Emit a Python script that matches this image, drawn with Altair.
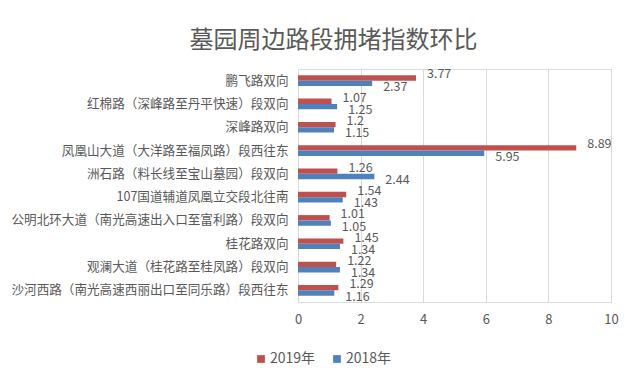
import altair as alt
import pandas as pd

categories = [
    "鹏飞路双向",
    "红棉路（深峰路至丹平快速）段双向",
    "深峰路双向",
    "凤凰山大道（大洋路至福凤路）段西往东",
    "洲石路（料长线至宝山墓园）段双向",
    "107国道辅道凤凰立交段北往南",
    "公明北环大道（南光高速出入口至富利路）段双向",
    "桂花路双向",
    "观澜大道（桂花路至桂凤路）段双向",
    "沙河西路（南光高速西丽出口至同乐路）段西往东",
]
values_2019 = [3.77, 1.07, 1.2, 8.89, 1.26, 1.54, 1.01, 1.45, 1.22, 1.29]
values_2018 = [2.37, 1.25, 1.15, 5.95, 2.44, 1.43, 1.05, 1.34, 1.34, 1.16]
series = ["2019年", "2018年"]
colors = ["#C0504D", "#4F81BD"]
x_ticks = [0, 2, 4, 6, 8, 10]

rows = []
for c, a, b in zip(categories, values_2019, values_2018):
    rows.append({"cat": c, "series": series[0], "value": a})
    rows.append({"cat": c, "series": series[1], "value": b})
df = pd.DataFrame(rows)

FONT = "Noto Sans CJK SC"
GRAY = "#595959"

y_enc = alt.Y("cat:N", sort=categories, title=None,
              scale=alt.Scale(paddingInner=0.54, paddingOuter=0.27),
              axis=alt.Axis(labelFontSize=12.6, labelColor=GRAY, labelFont=FONT,
                            ticks=False, domain=False, labelPadding=10, labelLimit=400))
x_enc = alt.X("value:Q", title=None,
              scale=alt.Scale(domain=[0, 10], nice=False),
              axis=alt.Axis(values=x_ticks, grid=True, gridColor="#D9D9D9", domain=False,
                            ticks=False, labelFontSize=13, labelColor=GRAY, labelFont=FONT,
                            labelPadding=11, labelFlush=False))
yoff = alt.YOffset("series:N", sort=series)

bars = alt.Chart(df).mark_bar().encode(
    y=y_enc, x=x_enc, yOffset=yoff,
    color=alt.Color("series:N", sort=series,
                    scale=alt.Scale(domain=series, range=colors),
                    legend=alt.Legend(title=None, orient="none", direction="horizontal",
                                      legendX=-44, legendY=283, symbolType="square",
                                      symbolSize=60, labelFontSize=14, labelColor=GRAY,
                                      labelFont=FONT, columnPadding=14, symbolStrokeWidth=0,
                                      labelOffset=2)),
)

text19 = alt.Chart(df[df.series == series[0]]).mark_text(
    align="left", baseline="middle", dx=11, dy=-3.5, fontSize=12.5, color=GRAY, font=FONT
).encode(y=alt.Y("cat:N", sort=categories), x="value:Q", yOffset=yoff,
         text=alt.Text("value:Q", format=".2~f"))

text18 = alt.Chart(df[df.series == series[1]]).mark_text(
    align="left", baseline="middle", dx=11, dy=3.5, fontSize=12.5, color=GRAY, font=FONT
).encode(y=alt.Y("cat:N", sort=categories), x="value:Q", yOffset=yoff,
         text=alt.Text("value:Q", format=".2~f"))

chart = alt.layer(bars, text19, text18).properties(
    width=313, height=233,
    autosize=alt.AutoSizeParams(type="none"),
    padding={"left": 290, "top": 61, "right": 21, "bottom": 75},
    title=alt.TitleParams("墓园周边路段拥堵指数环比", fontSize=24, font=FONT,
                          fontWeight="normal", color=GRAY, anchor="middle",
                          dx=-121, offset=15),
).configure_view(stroke=None).configure(background="white")

chart.save("out.html", embed_options={"renderer": "svg", "actions": False})
